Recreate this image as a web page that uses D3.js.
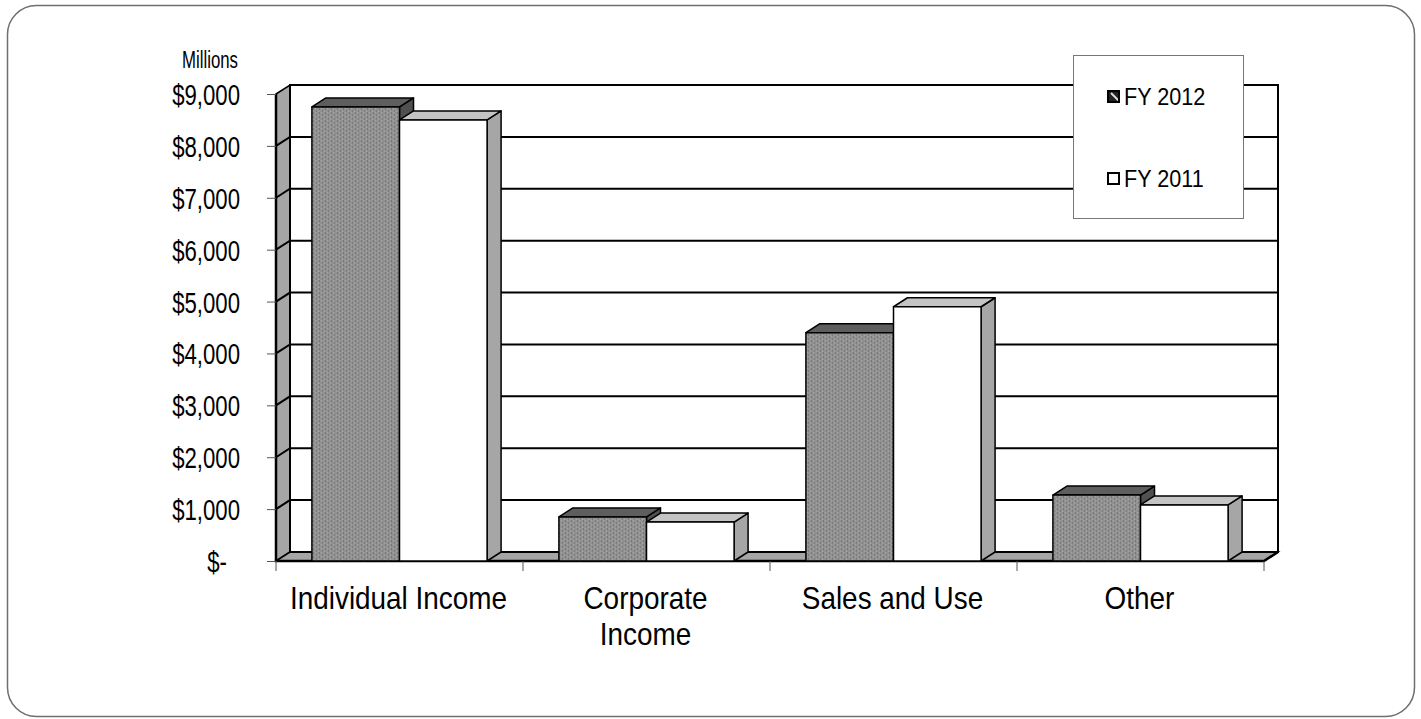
<!DOCTYPE html>
<html>
<head>
<meta charset="utf-8">
<script src="https://cdn.jsdelivr.net/npm/d3@7"></script>
<style>
  body { margin: 0; background: #fff; }
  svg { display: block; }
  text { font-family: "Liberation Sans", Arial, sans-serif; fill: #000; }
</style>
</head>
<body>
<svg width="1421" height="719"></svg>
<script>
// data (millions of dollars)
var categories = [["Individual Income"], ["Corporate", "Income"], ["Sales and Use"], ["Other"]];
var seriesNames = ["FY 2012", "FY 2011"];
var fy2012 = [8750, 850, 4400, 1270];
var fy2011 = [8500, 750, 4900, 1080];
var yTicks = [0, 1000, 2000, 3000, 4000, 5000, 6000, 7000, 8000, 9000];

var svg = d3.select("svg"),
    plotLeft = 276, plotRight = 1264,
    plotBottom = 561, plotTop = 94,
    dx = 14, dy = -9;   // depth of the 3d box

var x = d3.scaleBand().domain(d3.range(categories.length)).range([plotLeft, plotRight]);
var x1 = d3.scaleBand().domain(seriesNames).range([0, x.bandwidth()]).paddingOuter(0.41);
var y = d3.scaleLinear().domain([0, 9000]).range([plotBottom, plotTop]);

var defs = svg.append("defs");
// dotted texture of the dark bars
var pat = defs.append("pattern").attr("id", "dots")
    .attr("patternUnits", "userSpaceOnUse").attr("width", 6).attr("height", 4);
pat.append("rect").attr("width", 6).attr("height", 4).attr("fill", "#929292");
pat.append("rect").attr("x", 1).attr("width", 1).attr("height", 2).attr("fill", "#767676");
pat.append("rect").attr("x", 4).attr("y", 2).attr("width", 1).attr("height", 2).attr("fill", "#7c7c7c");
pat.append("rect").attr("x", 3).attr("y", 0).attr("width", 1).attr("height", 1).attr("fill", "#a8a8a8");
pat.append("rect").attr("x", 0).attr("y", 3).attr("width", 1).attr("height", 1).attr("fill", "#a8a8a8");
var hatch = defs.append("pattern").attr("id", "hatch")
    .attr("patternUnits", "userSpaceOnUse").attr("width", 12).attr("height", 12);
hatch.append("rect").attr("width", 12).attr("height", 12).attr("fill", "#222");
hatch.append("path").attr("d", "M2,2 L10,10").attr("stroke", "#ddd").attr("stroke-width", 2);

// rounded frame
svg.append("rect").attr("x", 7.5).attr("y", 5.5).attr("width", 1407).attr("height", 711)
   .attr("rx", 29).attr("fill", "none").attr("stroke", "#6f6f6f").attr("stroke-width", 1.5);

var pts = function(a) { return a.map(function(p) { return p.join(","); }).join(" "); };

// narrow-ish text: draw with a horizontal squeeze
function squeezed(parent, tx, ty, sx, size, anchor, str) {
    return parent.append("text")
        .attr("transform", "translate(" + tx + "," + ty + ") scale(" + sx + ",1)")
        .attr("font-size", size).attr("text-anchor", anchor).text(str);
}

// left wall
svg.append("polygon")
   .attr("points", pts([[plotLeft, y(9000)], [plotLeft + dx, y(9000) + dy], [plotLeft + dx, plotBottom + dy], [plotLeft, plotBottom]]))
   .attr("fill", "#a6a6a6").attr("stroke", "#000").attr("stroke-width", 1.5);
// floor
svg.append("polygon")
   .attr("points", pts([[plotLeft, plotBottom], [plotLeft + dx, plotBottom + dy], [plotRight + dx, plotBottom + dy], [plotRight, plotBottom]]))
   .attr("fill", "#a6a6a6").attr("stroke", "#000").attr("stroke-width", 1.5);
// back wall
svg.append("rect").attr("x", plotLeft + dx).attr("y", y(9000) + dy)
   .attr("width", plotRight - plotLeft).attr("height", plotBottom - y(9000))
   .attr("fill", "#fff").attr("stroke", "#000").attr("stroke-width", 2);

// gridlines on back and left wall
var grid = svg.append("g").attr("stroke", "#000").attr("stroke-width", 2).attr("fill", "none");
yTicks.filter(function(d) { return d > 0 && d < 9000; }).forEach(function(d) {
    grid.append("path").attr("d", "M" + plotLeft + "," + y(d) + "L" + (plotLeft + dx) + "," + (y(d) + dy) + "H" + (plotRight + dx));
});
// front edge of wall and floor
svg.append("path").attr("d", "M" + plotLeft + "," + y(9000) + "V" + plotBottom + "H" + plotRight + "L" + (plotRight + dx) + "," + (plotBottom + dy))
   .attr("stroke", "#000").attr("stroke-width", 2.5).attr("fill", "none");

// y axis ticks and labels
var yAxis = d3.axisLeft(y).tickValues(yTicks).tickSize(9).tickFormat("");
var ya = svg.append("g").attr("transform", "translate(" + plotLeft + ",0)").call(yAxis);
ya.select(".domain").remove();
ya.selectAll(".tick line").attr("stroke", "#555");
yTicks.forEach(function(d) {
    var lab = d === 0 ? "$-" : "$" + d3.format(",")(d);
    squeezed(svg, d === 0 ? 227 : 240, y(d) + 11, 0.74, 30, "end", lab);
});

// x axis ticks and category labels
var xa = svg.append("g").attr("transform", "translate(0," + plotBottom + ")");
x.domain().concat([categories.length]).forEach(function(i) {
    var xx = i < categories.length ? x(i) : plotRight;
    xa.append("line").attr("x1", xx).attr("x2", xx).attr("y1", 0).attr("y2", 10).attr("stroke", "#555");
});
categories.forEach(function(lines, i) {
    lines.forEach(function(l, k) {
        squeezed(xa, x(i) + x.bandwidth() / 2 - 1, 48 + k * 36, 0.9, 31, "middle", l);
    });
});

// y axis title
squeezed(svg, 182, 68, 0.7, 24, "start", "Millions");

// bars: right side, top, then front face
var styles = {
    "FY 2012": { front: "url(#dots)", top: "#5e5e5e", side: "#505050" },
    "FY 2011": { front: "#fff", top: "#c4c4c4", side: "#a6a6a6" }
};
var data = [];
categories.forEach(function(c, i) {
    data.push({ i: i, s: "FY 2012", v: fy2012[i] });
    data.push({ i: i, s: "FY 2011", v: fy2011[i] });
});
var bars = svg.append("g").selectAll("g").data(data).enter().append("g")
    .attr("stroke", "#000").attr("stroke-width", 1.5).attr("stroke-linejoin", "round");
bars.append("polygon").attr("points", function(d) {
    var x0 = x(d.i) + x1(d.s) + x1.bandwidth(), yt = y(d.v);
    return pts([[x0, yt], [x0 + dx, yt + dy], [x0 + dx, plotBottom + dy], [x0, plotBottom]]);
}).attr("fill", function(d) { return styles[d.s].side; });
bars.append("polygon").attr("points", function(d) {
    var x0 = x(d.i) + x1(d.s), x2 = x0 + x1.bandwidth(), yt = y(d.v);
    return pts([[x0, yt], [x0 + dx, yt + dy], [x2 + dx, yt + dy], [x2, yt]]);
}).attr("fill", function(d) { return styles[d.s].top; });
bars.append("rect")
    .attr("x", function(d) { return x(d.i) + x1(d.s); })
    .attr("y", function(d) { return y(d.v); })
    .attr("width", x1.bandwidth())
    .attr("height", function(d) { return plotBottom - y(d.v); })
    .attr("fill", function(d) { return styles[d.s].front; });

// legend
var lg = svg.append("g").attr("transform", "translate(1073,55)");
lg.append("rect").attr("x", 0.5).attr("y", 0.5).attr("width", 170).attr("height", 163)
  .attr("fill", "#fff").attr("stroke", "#777").attr("stroke-width", 1);
seriesNames.forEach(function(s, k) {
    var yy = 36 + k * 82;
    lg.append("rect").attr("x", 35).attr("y", yy).attr("width", 11).attr("height", 11)
      .attr("fill", k === 0 ? "url(#hatch)" : "#fff").attr("stroke", "#000").attr("stroke-width", 2);
    squeezed(lg, 51, yy + 14, 0.9, 24, "start", s);
});
</script>
</body>
</html>
